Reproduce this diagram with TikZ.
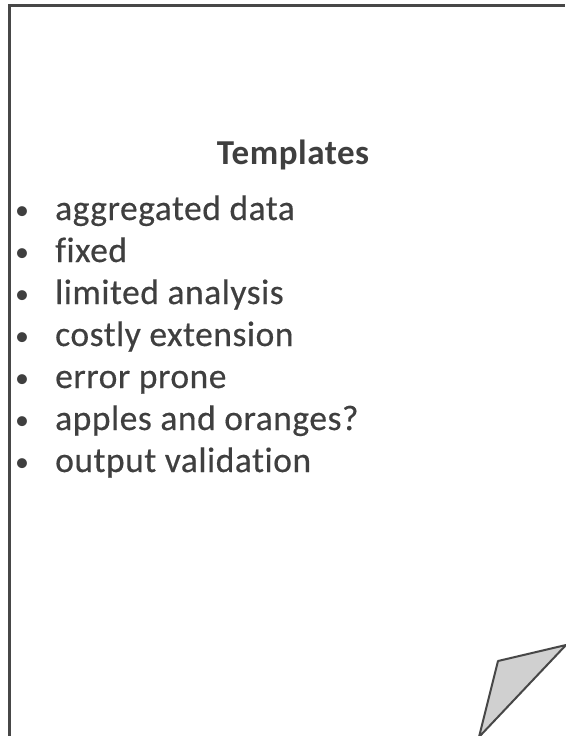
\documentclass[tikz,border=0pt]{standalone}
\usepackage{fontspec}
\setmainfont[LetterSpace=1.5,Ligatures=NoCommon]{Carlito}
\newfontfamily\listfont[LetterSpace=1.5,Ligatures=NoCommon,FakeBold=0.4]{Carlito}
\definecolor{edge}{HTML}{474747}
\definecolor{ink}{HTML}{3F3F3F}
\definecolor{foldfill}{HTML}{D0D0D0}
\begin{document}
\begin{tikzpicture}[x=1pt,y=-1pt,
  item/.style={anchor=base west,inner sep=0pt,text=ink,font=\listfont\fontsize{35.5}{42}\selectfont},
  dot/.style={anchor=base,inner sep=0pt,text=ink,font=\fontsize{28}{34}\selectfont}]
\useasboundingbox (0,0) rectangle (565,736);
% page outline (cropped on the right and bottom)
\draw[edge,line width=3pt] (9,736) -- (9,5) -- (565,5);
% curled corner
\coordinate (c1) at (566,645);
\coordinate (c2) at (498,661);
\coordinate (c3) at (479,737);
\draw[edge,line width=2pt,fill=foldfill,line join=round] (c1) -- (c2) -- (c3) -- cycle;
% heading
\node[anchor=base,inner sep=0pt,text=ink,font=\fontsize{35}{42}\selectfont\bfseries] (title) at (293,164) {Templates};
% bullet list
\foreach \t [count=\i] in {aggregated data,fixed,limited analysis,costly extension,error prone,apples and oranges?,output validation}{
  \node[dot] (b\i) at (22,{219+42*(\i-1)}) {•};
  \node[item] (t\i) at (55,{220+42*(\i-1)}) {\t};
}
\end{tikzpicture}
\end{document}
